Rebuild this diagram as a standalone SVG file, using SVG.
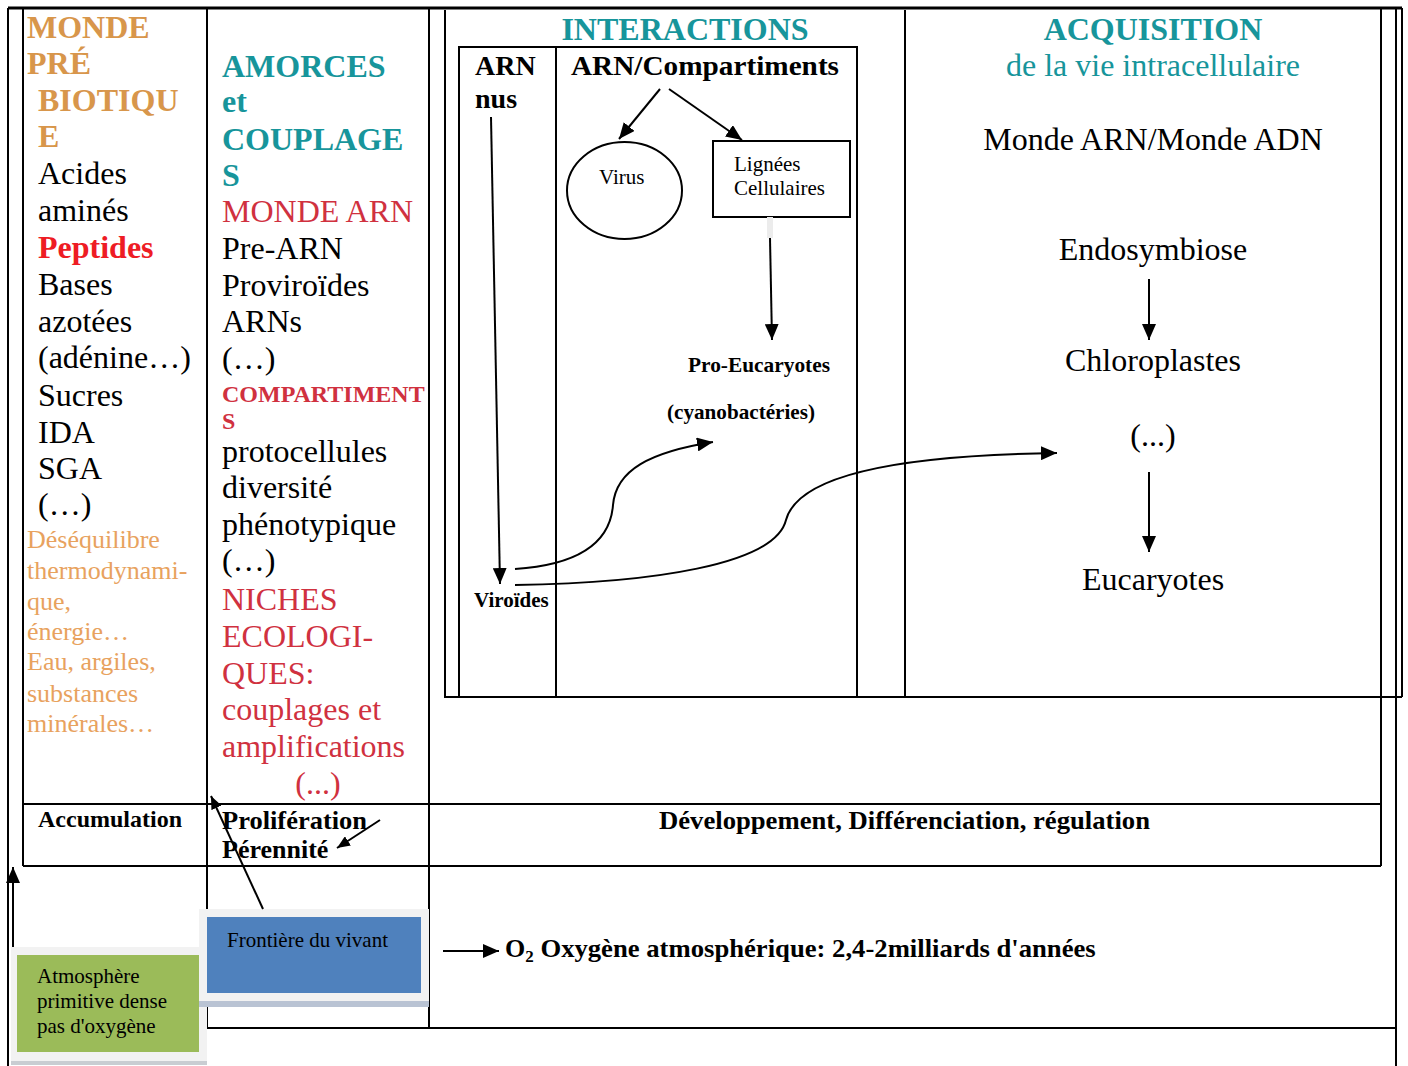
<svg xmlns="http://www.w3.org/2000/svg" width="1408" height="1066" viewBox="0 0 1408 1066">
<defs>
<marker id="ah" markerUnits="userSpaceOnUse" markerWidth="16" markerHeight="14" refX="16" refY="7" orient="auto" viewBox="0 0 16 14"><path d="M0,0 L16,7 L0,14 z" fill="#000"/></marker>
<marker id="ahs" markerUnits="userSpaceOnUse" markerWidth="13" markerHeight="11" refX="13" refY="5.5" orient="auto" viewBox="0 0 13 11"><path d="M0,0 L13,5.5 L0,11 z" fill="#000"/></marker>
<style>
.ln{stroke:#000;stroke-width:2;fill:none}
.tk{stroke:#000;stroke-width:3;fill:none}
.con{stroke:#000;stroke-width:2;fill:none;marker-end:url(#ah)}
.cons{stroke:#000;stroke-width:2;fill:none;marker-end:url(#ahs)}
text{font-family:"Liberation Serif","Times New Roman",serif;fill:#000}
.b{font-weight:bold}
.f32{font-size:32px}
.f28{font-size:28px}
.f26{font-size:26px}
.f24{font-size:24px}
.f21{font-size:21px}
.teal{fill:#17959b}
.org{fill:#d8964b}
.lorg{fill:#e8a25e}
.red{fill:#ee1c24}
.crim{fill:#d0313f}
.mid{text-anchor:middle}
</style>
</defs>
<rect width="1408" height="1066" fill="#fff"/>

<g id="frame">
<path class="tk" d="M8,8 H1402"/>
<path class="ln" d="M8,8 V1066"/>
<path class="ln" d="M23,8 V866"/>
<path class="ln" d="M207,8 V1028"/>
<path class="ln" d="M429,8 V1028"/>
<path class="ln" d="M23,804 H1381"/>
<path class="ln" d="M23,866 H1381"/>
<path class="ln" d="M1381,8 V866"/>
<path class="ln" d="M1396,8 V1066"/>
<path class="ln" d="M1402,8 V697"/>
<path class="ln" d="M207,1028 H1396"/>
<path class="ln" d="M445,10 V697 H1402"/>
<path class="ln" d="M905,10 V697"/>
<path class="ln" d="M459,697 V47 H857 V697"/>
<path class="ln" d="M556,47 V697"/>
</g>

<g id="monde-prebiotique">
<text class="b f32 org" x="27" y="38">MONDE</text>
<text class="b f32 org" x="27" y="74">PRÉ</text>
<text class="b f32 org" x="38" y="111">BIOTIQU</text>
<text class="b f32 org" x="38" y="147">E</text>
<text class="f32" x="38" y="184">Acides</text>
<text class="f32" x="38" y="221">aminés</text>
<text class="b f32 red" x="38" y="258">Peptides</text>
<text class="f32" x="38" y="295">Bases</text>
<text class="f32" x="38" y="332">azotées</text>
<text class="f32" x="38" y="368">(adénine…)</text>
<text class="f32" x="38" y="406">Sucres</text>
<text class="f32" x="38" y="443">IDA</text>
<text class="f32" x="38" y="479">SGA</text>
<text class="f32" x="38" y="515">(…)</text>
<text class="f26 lorg" x="27" y="548">Déséquilibre</text>
<text class="f26 lorg" x="27" y="579">thermodynami-</text>
<text class="f26 lorg" x="27" y="610">que,</text>
<text class="f26 lorg" x="27" y="640">énergie…</text>
<text class="f26 lorg" x="27" y="670">Eau, argiles,</text>
<text class="f26 lorg" x="27" y="702">substances</text>
<text class="f26 lorg" x="27" y="732">minérales…</text>
</g>

<g id="amorces">
<text class="b f32 teal" x="222" y="77">AMORCES</text>
<text class="b f32 teal" x="222" y="112">et</text>
<text class="b f32 teal" x="222" y="150">COUPLAGE</text>
<text class="b f32 teal" x="222" y="186">S</text>
<text class="f32 crim" x="222" y="222">MONDE ARN</text>
<text class="f32" x="222" y="259">Pre-ARN</text>
<text class="f32" x="222" y="296">Proviroïdes</text>
<text class="f32" x="222" y="332">ARNs</text>
<text class="f32" x="222" y="369">(…)</text>
<text class="b f24 crim" x="222" y="402">COMPARTIMENT</text>
<text class="b f24 crim" x="222" y="429">S</text>
<text class="f32" x="222" y="462">protocellules</text>
<text class="f32" x="222" y="498">diversité</text>
<text class="f32" x="222" y="535">phénotypique</text>
<text class="f32" x="222" y="571">(…)</text>
<text class="f32 crim" x="222" y="610">NICHES</text>
<text class="f32 crim" x="222" y="647">ECOLOGI-</text>
<text class="f32 crim" x="222" y="684">QUES:</text>
<text class="f32 crim" x="222" y="720">couplages et</text>
<text class="f32 crim" x="222" y="757">amplifications</text>
<text class="f32 crim mid" x="318" y="794">(...)</text>
</g>

<g id="interactions">
<text class="b f32 teal mid" x="685" y="40">INTERACTIONS</text>
<text class="b f28" x="475" y="75">ARN</text>
<text class="b f28" x="475" y="108">nus</text>
<text class="b f28" x="571" y="75" textLength="268" lengthAdjust="spacingAndGlyphs">ARN/Compartiments</text>
</g>

<g id="virus">
<ellipse cx="624.5" cy="190.5" rx="57.5" ry="48.5" class="ln"/>
<text class="f21" x="599" y="184">Virus</text>
</g>

<g id="lignees">
<rect x="713" y="141" width="137" height="76" class="ln"/>
<text class="f21" x="734" y="171">Lignées</text>
<text class="f21" x="734" y="195">Cellulaires</text>
</g>

<g id="pro-eucaryotes">
<text class="b f21" x="688" y="372" textLength="142" lengthAdjust="spacingAndGlyphs">Pro-Eucaryotes</text>
<text class="b f21" x="667" y="419" textLength="148" lengthAdjust="spacingAndGlyphs">(cyanobactéries)</text>
</g>

<g id="viroides">
<text class="b f21" x="474" y="607">Viroïdes</text>
</g>

<g id="acquisition">
<text class="b f32 teal mid" x="1153" y="40">ACQUISITION</text>
<text class="f32 teal mid" x="1153" y="76">de la vie intracellulaire</text>
<text class="f32 mid" x="1153" y="150">Monde ARN/Monde ADN</text>
<text class="f32 mid" x="1153" y="260">Endosymbiose</text>
<text class="f32 mid" x="1153" y="371">Chloroplastes</text>
<text class="f32 mid" x="1153" y="446">(...)</text>
<text class="f32 mid" x="1153" y="590">Eucaryotes</text>
</g>

<g id="row-labels">
<text class="b f24" x="38" y="827">Accumulation</text>
<text class="b f26" x="222" y="829" textLength="145" lengthAdjust="spacingAndGlyphs">Prolifération</text>
<text class="b f26" x="222" y="858">Pérennité</text>
<text class="b f26" x="659" y="829" textLength="491" lengthAdjust="spacingAndGlyphs">Développement, Différenciation, régulation</text>
</g>

<g id="oxygene">
<text class="b f26" x="505" y="957">O<tspan font-size="17" dy="5">2</tspan><tspan dy="-5" textLength="562" lengthAdjust="spacingAndGlyphs"> Oxygène atmosphérique: 2,4-2milliards d'années</tspan></text>
</g>

<g id="atmosphere">
<rect x="11" y="947" width="196" height="118" fill="#f2f2f2"/>
<rect x="11" y="1061" width="196" height="4" fill="#c9cdd2"/>
<rect x="17" y="955" width="182" height="97" fill="#9bbb59"/>
<text class="f21" x="37" y="983">Atmosphère</text>
<text class="f21" x="37" y="1008">primitive dense</text>
<text class="f21" x="37" y="1033">pas d'oxygène</text>
</g>

<g id="frontiere">
<rect x="199" y="909" width="230" height="98" fill="#f2f2f2"/>
<rect x="199" y="1001" width="230" height="6" fill="#b9c3d3"/>
<rect x="207" y="917" width="214" height="76" fill="#4f81bd"/>
<text class="f21" x="227" y="947">Frontière du vivant</text>
</g>

<g id="connectors">
<path class="con" d="M491,117 L500,584"/>
<path class="con" d="M660,89 L619,139"/>
<path class="con" d="M669,89 L742,140"/>
<path d="M770,217 V238" stroke="#ececec" stroke-width="6" fill="none"/>
<path class="con" d="M770,238 L772,340"/>
<path class="con" d="M515,569 C575,565 610,545 613,505 C616,470 650,452 713,442"/>
<path class="con" d="M515,585 C650,583 775,565 786,520 C798,475 900,455 1057,453"/>
<path class="con" d="M1149,279 V340"/>
<path class="con" d="M1149,472 V552"/>
<path class="cons" d="M263,909 L211,796"/>
<path class="cons" d="M380,820 L337,848"/>
<path class="con" d="M13,947 V867"/>
<path class="con" d="M443,951 H499"/>
</g>
</svg>
